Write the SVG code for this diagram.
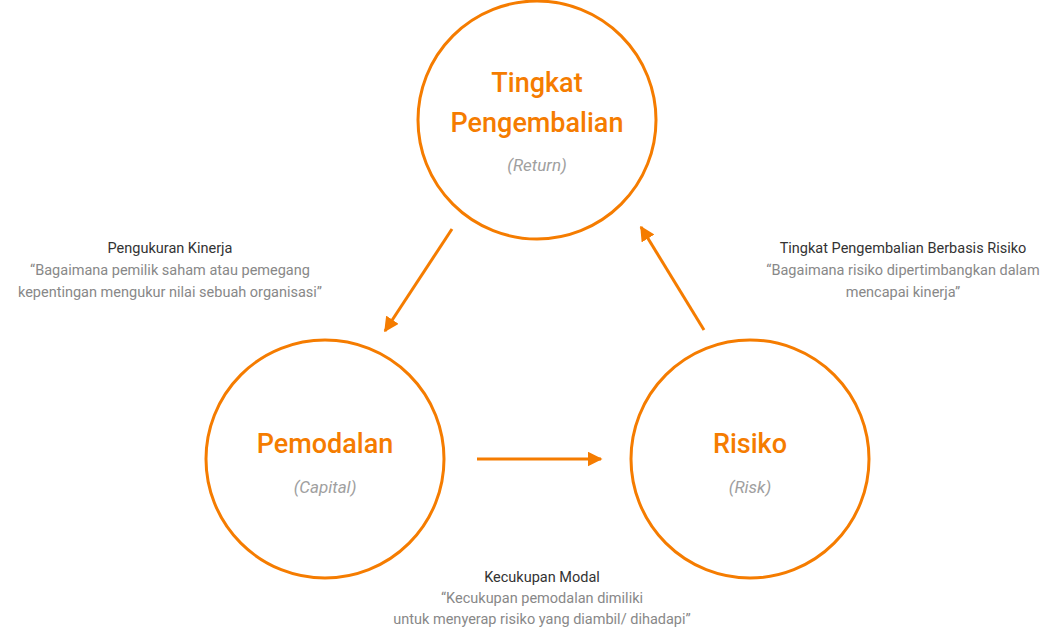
<svg xmlns="http://www.w3.org/2000/svg" width="1056" height="628" viewBox="0 0 1056 628">
<defs>
<marker id="ah" viewBox="0 0 10 10" refX="9" refY="5" markerWidth="5" markerHeight="5" orient="auto"><path d="M0,0 L10,5 L0,10 z" fill="#F57C00"/></marker>
<style>
.c{fill:#fff;stroke:#F57C00;stroke-width:3}
.t{font-family:Roboto,"Liberation Sans",sans-serif;font-size:27px;font-weight:500;fill:#F57C00;text-anchor:middle}
.s{font-family:Roboto,"Liberation Sans",sans-serif;font-size:17px;font-style:italic;fill:#A0A0A0;text-anchor:middle}
.h{font-family:Roboto,"Liberation Sans",sans-serif;font-size:14.5px;fill:#333;text-anchor:middle}
.q{font-family:Roboto,"Liberation Sans",sans-serif;font-size:14.5px;fill:#888;text-anchor:middle}
.a{stroke:#F57C00;stroke-width:3;fill:none;marker-end:url(#ah)}
</style>
</defs>
<rect width="1056" height="628" fill="#fff"/>
<g id="return"><circle class="c" cx="537" cy="120" r="119"/>
<text class="t" x="537" y="92">Tingkat</text><text class="t" x="537" y="132">Pengembalian</text><text class="s" x="537" y="171">(Return)</text></g>
<g id="capital"><circle class="c" cx="325" cy="459" r="119"/>
<text class="t" x="325" y="453">Pemodalan</text><text class="s" x="325" y="493">(Capital)</text></g>
<g id="risk"><circle class="c" cx="750" cy="459" r="119"/>
<text class="t" x="750" y="453">Risiko</text><text class="s" x="750" y="493">(Risk)</text></g>
<g id="connectors">
<line class="a" x1="452" y1="229" x2="385" y2="331"/>
<line class="a" x1="477" y1="459" x2="601" y2="459"/>
<line class="a" x1="704" y1="330" x2="641" y2="227"/>
</g>
<g id="labels">
<text class="h" x="170" y="253">Pengukuran Kinerja</text>
<text class="q" x="170" y="275">“Bagaimana pemilik saham atau pemegang</text>
<text class="q" x="170" y="297">kepentingan mengukur nilai sebuah organisasi”</text>
<text class="h" x="903" y="253">Tingkat Pengembalian Berbasis Risiko</text>
<text class="q" x="903" y="275">“Bagaimana risiko dipertimbangkan dalam</text>
<text class="q" x="903" y="297">mencapai kinerja”</text>
<text class="h" x="542" y="582">Kecukupan Modal</text>
<text class="q" x="542" y="603">“Kecukupan pemodalan dimiliki</text>
<text class="q" x="542" y="624">untuk menyerap risiko yang diambil/ dihadapi”</text>
</g>
</svg>
